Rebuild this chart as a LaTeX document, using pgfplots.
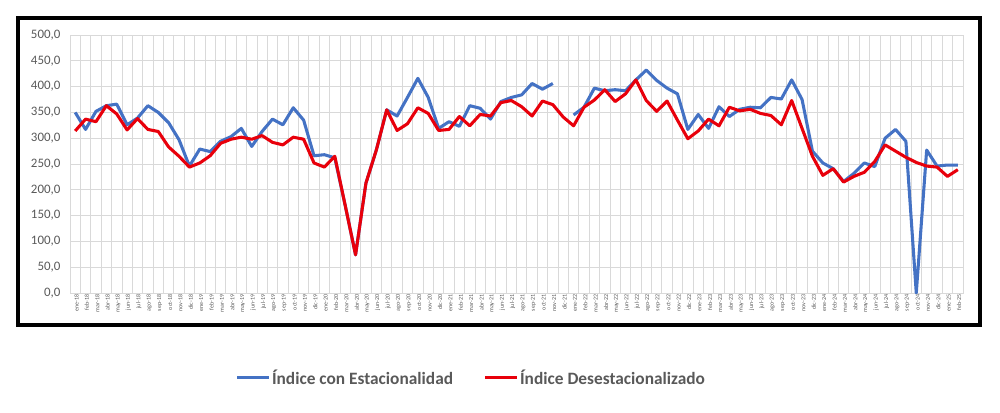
\documentclass[border=0pt]{standalone}
\usepackage{pgfplots}
\pgfplotsset{compat=1.18}
\usepackage{pgfplotstable}
\usepackage{fontspec}
\setmainfont{Carlito}
\definecolor{serblue}{HTML}{4472C4}
\definecolor{serred}{HTML}{E8000B}
\definecolor{txtgray}{HTML}{595959}
\definecolor{gridgray}{HTML}{D9D9D9}
\pgfplotstableread{
i blue red
0 350 314
1 317 337
2 352 332
3 363 363
4 366 347
5 326 316
6 339 338
7 363 317
8 350 313
9 330 283
10 297 265
11 246 244
12 279 252
13 274 266
14 294 290
15 303 298
16 319 302
17 284 298
18 313 305
19 337 292
20 326 287
21 359 302
22 335 298
23 266 252
24 268 244
25 262 265
26 170 170
27 74 74
28 213 213
29 277 277
30 355 355
31 343 315
32 379 328
33 416 359
34 379 348
35 319 315
36 332 317
37 323 342
38 363 324
39 358 346
40 337 343
41 371 369
42 379 373
43 384 361
44 406 343
45 395 372
46 406 365
47 nan 341
48 345 324
49 360 360
50 397 374
51 392 394
52 394 371
53 392 386
54 413 413
55 432 373
56 412 352
57 397 372
58 386 335
59 317 299
60 346 314
61 319 337
62 361 324
63 342 360
64 356 353
65 360 356
66 359 348
67 379 344
68 376 326
69 413 373
70 375 319
71 275 265
72 252 228
73 241 241
74 216 215
75 232 226
76 252 234
77 245 255
78 300 287
79 317 275
80 294 263
81 0 253
82 277 246
83 246 244
84 248 226
85 248 239
}\datatable
\begin{document}
\begin{tikzpicture}
\path[use as bounding box] (0pt,0pt) rectangle (750pt,309pt);
\draw[line width=2.4pt,black] (13.5pt,65.25pt) rectangle (735pt,295.5pt);
\begin{axis}[
  at={(52.5pt,89.25pt)}, anchor=south west,
  scale only axis, width=669.75pt, height=193.5pt,
  xmin=-0.5, xmax=85.5, ymin=0, ymax=500,
  ytick={0,50,...,500},
  xtick={0,...,85},
  xticklabels={ene-18,feb-18,mar-18,abr-18,may-18,jun-18,jul-18,ago-18,sep-18,oct-18,nov-18,dic-18,
ene-19,feb-19,mar-19,abr-19,may-19,jun-19,jul-19,ago-19,sep-19,oct-19,nov-19,dic-19,
ene-20,feb-20,mar-20,abr-20,may-20,jun-20,jul-20,ago-20,sep-20,oct-20,nov-20,dic-20,
ene-21,feb-21,mar-21,abr-21,may-21,jun-21,jul-21,ago-21,sep-21,oct-21,nov-21,dic-21,
ene-22,feb-22,mar-22,abr-22,may-22,jun-22,jul-22,ago-22,sep-22,oct-22,nov-22,dic-22,
ene-23,feb-23,mar-23,abr-23,may-23,jun-23,jul-23,ago-23,sep-23,oct-23,nov-23,dic-23,
ene-24,feb-24,mar-24,abr-24,may-24,jun-24,jul-24,ago-24,sep-24,oct-24,nov-24,dic-24,
ene-25,feb-25},
  minor xtick={-0.5,0.5,...,85.5},
  xminorgrids=true, ymajorgrids=true, xmajorgrids=false,
  grid style={gridgray, line width=0.6pt},
  minor grid style={gridgray, line width=0.6pt},
  major tick length=0pt, minor tick length=0pt,
  axis line style={gridgray, line width=0.6pt},
  xticklabel style={rotate=90, anchor=east, font=\fontsize{4.5}{5}\selectfont, text=txtgray, inner sep=1pt, yshift=-1pt},
  yticklabel style={font=\fontsize{9.7}{11}\selectfont, text=txtgray, inner sep=1pt, xshift=-6pt},
  /pgf/number format/.cd, fixed, fixed zerofill, precision=1, use comma, 1000 sep={}, assume math mode=true,
  /pgfplots/.cd,
  unbounded coords=jump,
  legend columns=2,
  legend style={at={(0.449,-0.329)}, anchor=center, draw=none, fill=none,
    font=\bfseries\fontsize{13}{15}\selectfont, text=txtgray,
    /tikz/every even column/.append style={column sep=22pt},
    nodes={inner sep=1pt}},
  legend image code/.code={\draw[#1] (0pt,0pt) -- (24pt,0pt);},
]
\addplot[serblue, line width=2.3pt, line join=round] table[x=i, y=blue] {\datatable};
\addlegendentry{Índice con Estacionalidad}
\addplot[serred, line width=2.3pt, line join=round] table[x=i, y=red] {\datatable};
\addlegendentry{Índice Desestacionalizado}
\end{axis}
\end{tikzpicture}
\end{document}
